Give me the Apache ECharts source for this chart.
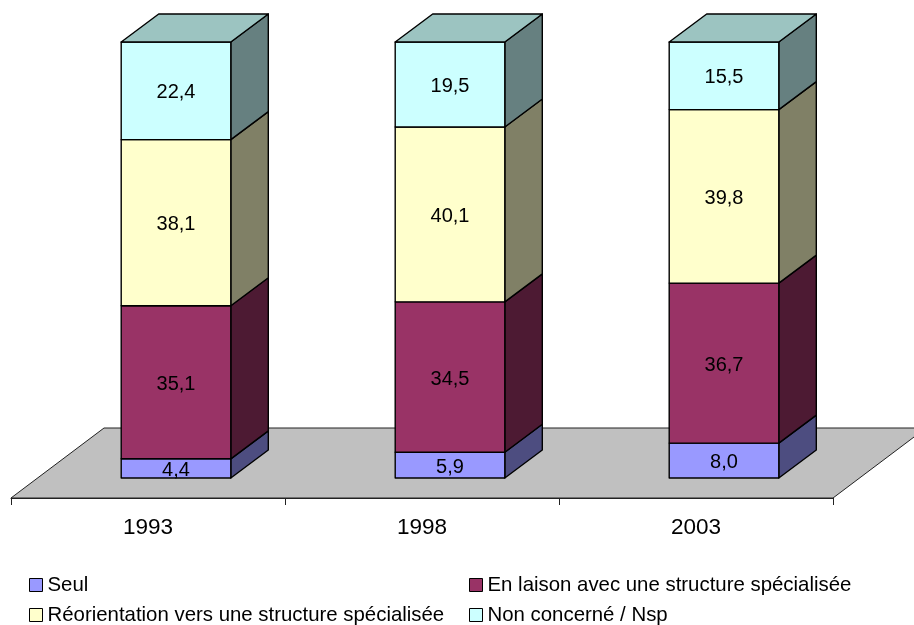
<!DOCTYPE html>
<html>
<head>
<meta charset="utf-8">
<style>html,body{margin:0;padding:0;background:#fff}#c{width:914px;height:625px}</style>
<script src="https://cdn.jsdelivr.net/npm/echarts@6/dist/echarts.min.js"></script>
</head>
<body>
<div id="c"></div>
<script>
const years = ['1993', '1998', '2003'];
const seul = [4.4, 5.9, 8.0];
const liaison = [35.1, 34.5, 36.7];
const reorientation = [38.1, 40.1, 39.8];
const nonConcerne = [22.4, 19.5, 15.5];

const layers = [
  { name: 'Seul', values: seul, front: '#9999FF', top: '#7373BF', side: '#4D4D80' },
  { name: 'En laison avec une structure spécialisée', values: liaison, front: '#993366', top: '#73264D', side: '#4D1A33' },
  { name: 'Réorientation vers une structure spécialisée', values: reorientation, front: '#FFFFCC', top: '#BFBF99', side: '#808066' },
  { name: 'Non concerné / Nsp', values: nonConcerne, front: '#CCFFFF', top: '#9CC4C1', side: '#668080' }
];

const FONT = '"Liberation Sans", Arial, sans-serif';
const DEPTH_X = 37.5, DEPTH_Y = -28;      // bar depth
const SHIFT_X = 28, SHIFT_Y = 20;         // bar plane vs floor front edge
const FLOOR_X = 93, FLOOR_Y = -70;        // floor depth
const LINE = { stroke: '#000', lineWidth: 1.4, lineJoin: 'round' };

function poly(points, fill, z2) {
  return { type: 'polygon', z2: z2 || 0, shape: { points: points }, style: Object.assign({ fill: fill }, LINE) };
}

function boxRenderer(layer, isTop) {
  return function (params, api) {
    const cat = api.value(0), val = api.value(1), base = api.value(2);
    const bandW = api.size([1, 0])[0];
    const c = api.coord([cat, base]);
    const t = api.coord([cat, base + val]);
    const w = bandW * 0.4;
    const x0 = c[0] + SHIFT_X - w / 2, x1 = x0 + w;
    const yb = c[1], yt = t[1];
    const children = [
      poly([[x1, yb], [x1 + DEPTH_X, yb + DEPTH_Y], [x1 + DEPTH_X, yt + DEPTH_Y], [x1, yt]], layer.side),
      poly([[x0, yb], [x1, yb], [x1, yt], [x0, yt]], layer.front)
    ];
    if (isTop) {
      children.push(poly([[x0, yt], [x1, yt], [x1 + DEPTH_X, yt + DEPTH_Y], [x0 + DEPTH_X, yt + DEPTH_Y]], layer.top));
    }
    children.push({
      type: 'text', z2: 5,
      style: {
        x: (x0 + x1) / 2, y: (yb + yt) / 2 + 2,
        text: val.toFixed(1).replace('.', ','),
        align: 'center', verticalAlign: 'middle',
        fill: '#000', font: '20px ' + FONT
      }
    });
    return { type: 'group', children: children };
  };
}

function floorRenderer(params, api) {
  const cs = params.coordSys;
  const y = api.coord([0, 0])[1] + SHIFT_Y;
  const l = cs.x, r = cs.x + cs.width;
  return {
    type: 'polygon',
    shape: { points: [[l, y], [r, y], [r + FLOOR_X, y + FLOOR_Y], [l + FLOOR_X, y + FLOOR_Y]] },
    style: { fill: '#C0C0C0', stroke: '#222', lineWidth: 1 }
  };
}

const stackBase = years.map(() => 0);
const barSeries = layers.map((layer, li) => {
  const data = layer.values.map((v, i) => {
    const row = [i, v, stackBase[i]];
    stackBase[i] += v;
    return row;
  });
  return {
    type: 'custom',
    name: layer.name,
    coordinateSystem: 'cartesian2d',
    renderItem: boxRenderer(layer, li === layers.length - 1),
    encode: { x: 0, y: 1 },
    itemStyle: { color: layer.front },
    data: data,
    z: 3,
    silent: true
  };
});

const legendCommon = {
  orient: 'vertical',
  icon: 'rect',
  itemWidth: 13,
  itemHeight: 13,
  itemGap: 8,
  padding: 0,
  height: 70,
  top: 574,
  selectedMode: false,
  itemStyle: { borderColor: '#000', borderWidth: 1 },
  textStyle: { fontFamily: FONT, fontSize: 20.4, color: '#000', lineHeight: 22 }
};

const chart = echarts.init(document.getElementById('c'), null, { renderer: 'canvas' });
chart.setOption({
  animation: false,
  backgroundColor: '#fff',
  grid: { left: 11, top: 42, width: 822, height: 436, containLabel: false },
  xAxis: {
    type: 'category',
    data: years,
    offset: 20,
    boundaryGap: true,
    axisLine: { show: true, onZero: false, lineStyle: { color: '#222', width: 1 } },
    axisTick: { show: true, length: 7, alignWithLabel: false, lineStyle: { color: '#222', width: 1 } },
    axisLabel: { fontFamily: FONT, fontSize: 22.5, color: '#000', margin: 18 },
    splitLine: { show: false }
  },
  yAxis: { type: 'value', min: 0, max: 100, show: false, splitLine: { show: false } },
  legend: [
    Object.assign({}, legendCommon, { left: 29, data: [layers[0].name, layers[2].name] }),
    Object.assign({}, legendCommon, { left: 469, data: [layers[1].name, layers[3].name] })
  ],
  series: [
    { type: 'custom', name: 'floor', coordinateSystem: 'cartesian2d', renderItem: floorRenderer,
      encode: { x: 0, y: 1 }, data: [[0, 0]], z: 1, silent: true }
  ].concat(barSeries)
});
</script>
</body>
</html>
